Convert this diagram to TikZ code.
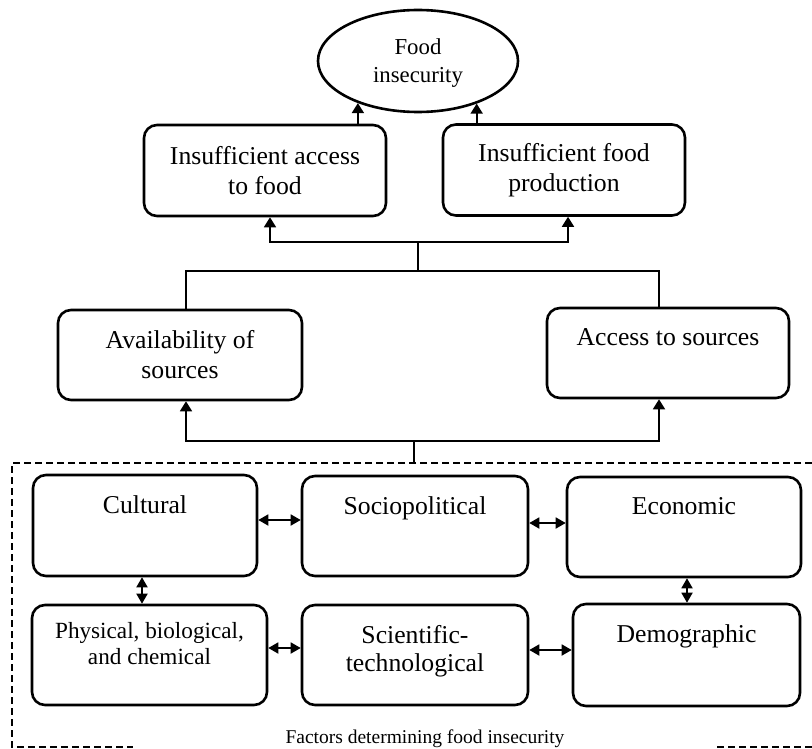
\documentclass[tikz,border=0pt]{standalone}
\usepackage{fontspec}
\setmainfont{Liberation Serif}
\usetikzlibrary{shapes.geometric,arrows.meta}

\begin{document}
\begin{tikzpicture}[
        x=1pt, y=-1pt,
        line width=2.6pt,
        font=\fontsize{25.7}{30}\selectfont
    ]
    \tikzset{
        mybox/.style = {rectangle, rounded corners=13pt, draw=black, align=center, fill=white, inner sep=0pt},
        myellipse/.style = {ellipse, draw=black, align=center, fill=white, inner sep=0pt,
            minimum width=200pt, minimum height=102pt, font=\fontsize{22.8}{28}\selectfont},
        toplbl/.style = {anchor=north, yshift=-17pt, align=center},
        mytop/.style = {label={[toplbl]north:{#1}}},
        edgen/.style = {-, line width=1.8pt},
        edgea/.style = {-{Triangle[length=10pt,width=12pt]}, line width=1.8pt},
        edgeab/.style = {{Triangle[length=10pt,width=11pt]}-{Triangle[length=10pt,width=11pt]}, line width=1.8pt},
        framen/.style = {line width=2pt, dash pattern=on 7pt off 4pt},
    }
    \useasboundingbox (0,0) rectangle (812,749);
    \node[myellipse] at (418,61) (food) {\strut Food\\insecurity};
    \node[mybox, minimum width=242pt, minimum height=91pt] at (265,170.5) (acc) {Insufficient access\\to food};
    \node[mybox, minimum width=242pt, minimum height=91pt] at (564,170) (prod) {Insufficient food\\production};
    \node[mybox, minimum width=244pt, minimum height=90pt] at (180,355) (avail) {Availability of\\sources};
    \node[mybox, minimum width=242pt, minimum height=90pt, mytop={Access to sources}] at (668,353) (srcacc) {};
    %
    \node[mybox, minimum width=224pt, minimum height=101pt, mytop=Cultural] at (145,525.5) (cult) {};
    \node[mybox, minimum width=226pt, minimum height=100pt, mytop=Sociopolitical] at (415,526) (socio) {};
    \node[mybox, minimum width=234pt, minimum height=100pt, mytop=Economic] at (684,527) (econ) {};
    \node[mybox, minimum width=235pt, minimum height=100pt,
        label={[toplbl, yshift=3pt, font=\fontsize{23.2}{26}\selectfont]north:{Physical, biological,\\and chemical}}] at (149.5,655) (phys) {};
    \node[mybox, minimum width=226pt, minimum height=100pt,
        label={[toplbl, font=\fontsize{25.7}{28}\selectfont]north:{Scientific-\\technological}}] at (415,655) (sci) {};
    \node[mybox, minimum width=227pt, minimum height=102pt, mytop=Demographic] at (686.5,655) (demo) {};
    %
    \draw[framen] (812,463) -- (12,463) -- (12,747) -- (133,747);
    \draw[framen] (717,747) -- (812,747);
    \node[font=\fontsize{19.5}{22}\selectfont] at (425,739) (ftitle) {Factors determining food insecurity};
    %
    \coordinate (j1) at (418,242);
    \coordinate (j2) at (418,271);
    \coordinate (j3) at (414,441);
    \coordinate (ftop) at (414,463);
    %
    \draw[edgea] (acc.north -| food.215.6) -- (food.215.6);
    \draw[edgea] (prod.north -| food.324.4) -- (food.324.4);
    \draw[edgea] (j1) -| ([xshift=5pt]acc.south);
    \draw[edgea] (j1) -| ([xshift=4pt]prod.south);
    \draw[edgen] (j1) -- (j2);
    \draw[edgen] ([xshift=6pt]avail.north) |- (j2) -| ([xshift=-9pt]srcacc.north);
    \draw[edgea] (j3) -| ([xshift=6pt]avail.south);
    \draw[edgea] (j3) -| ([xshift=-9pt]srcacc.south);
    \draw[edgen] (j3) -- (ftop);
    %
    \draw[edgeab] (cult.east |- 0,520) -- (socio.west |- 0,520);
    \draw[edgeab] (socio.east |- 0,523) -- (econ.west |- 0,523);
    \draw[edgeab] (cult.south -| 142,0) -- (phys.north -| 142,0);
    \draw[edgeab] (econ.south -| 687,0) -- (demo.north -| 687,0);
    \draw[edgeab] (phys.east |- 0,648) -- (sci.west |- 0,648);
    \draw[edgeab] (sci.east |- 0,650) -- (demo.west |- 0,650);
\end{tikzpicture}
\end{document}
